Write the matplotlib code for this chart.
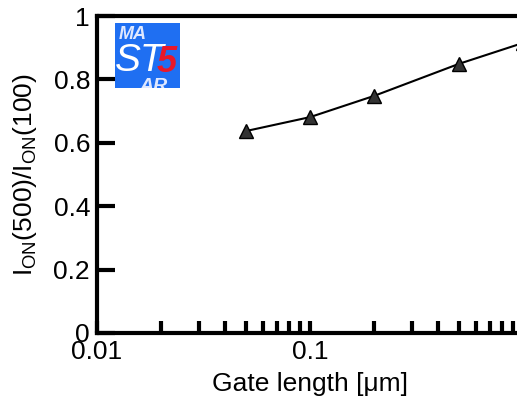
import matplotlib
matplotlib.use("Agg")
import matplotlib.pyplot as plt
from matplotlib.patches import Rectangle
from matplotlib.ticker import FixedLocator, NullFormatter

plt.rcParams["font.family"] = ["Liberation Sans", "DejaVu Sans"]
plt.rcParams["mathtext.fontset"] = "custom"
plt.rcParams["mathtext.rm"] = "Liberation Sans"
plt.rcParams["mathtext.it"] = "Liberation Sans:italic"

# data
gate_length = [0.05, 0.1, 0.2, 0.5, 1.0]
ion_ratio = [0.637, 0.681, 0.748, 0.849, 0.915]
x_ticks = [0.01, 0.1, 1]
x_tick_labels = ["0.01", "0.1", "1"]
y_ticks = [0, 0.2, 0.4, 0.6, 0.8, 1]
y_tick_labels = ["0", "0.2", "0.4", "0.6", "0.8", "1"]

fig = plt.figure(figsize=(5.17, 4.01), dpi=100)
ax = fig.add_axes([97 / 517, 1 - 333 / 401, 426 / 517, 317 / 401])

ax.plot(gate_length, ion_ratio, color="black", lw=1.5, marker="^",
        markersize=10, markerfacecolor="#333333", markeredgecolor="black",
        markeredgewidth=1.0, clip_on=False)

ax.set_xscale("log")
ax.set_xlim(0.01, 1)
ax.set_ylim(0, 1)
ax.set_xticks(x_ticks)
ax.set_xticklabels(x_tick_labels)
minor = [m * d for d in (0.01, 0.1) for m in range(2, 10)]
ax.xaxis.set_minor_locator(FixedLocator(minor))
ax.xaxis.set_minor_formatter(NullFormatter())
ax.set_yticks(y_ticks)
ax.set_yticklabels(y_tick_labels)

ax.tick_params(axis="both", which="both", direction="in", labelsize=19,
               width=3, color="black")
ax.tick_params(axis="y", which="major", length=13, pad=5)
ax.tick_params(axis="x", which="major", length=9, pad=5)
ax.tick_params(axis="x", which="minor", length=9)
for side in ("left", "bottom", "top", "right"):
    ax.spines[side].set_linewidth(3)

ax.set_xlabel("Gate length [\u03bcm]", fontsize=19, labelpad=6)
ax.set_ylabel(r"$\mathregular{I_{ON}(500)/I_{ON}(100)}$", fontsize=19)
ax.yaxis.set_label_coords(-0.136, 0.5)

# MASTAR logo
fax = fig.add_axes([115 / 517, 1 - 88 / 401, 65 / 517, 65 / 401])
fax.set_xlim(0, 1)
fax.set_ylim(0, 1)
fax.axis("off")
fax.add_patch(Rectangle((0, 0), 1, 1, color="#1f6ff2"))
fax.text(0.05, 0.82, "MA", color="#dfe8ff", fontsize=13, style="italic",
         fontweight="bold", va="center", ha="left", clip_on=True)
fax.text(0.0, 0.42, "ST", color="white", fontsize=28, style="italic",
         va="center", ha="left", clip_on=True)
fax.text(0.80, 0.40, "5", color="#e8182a", fontsize=26, style="italic",
         fontweight="bold", va="center", ha="center", clip_on=True)
fax.text(0.38, 0.02, "AR", color="#dfe8ff", fontsize=14, style="italic",
         fontweight="bold", va="center", ha="left", clip_on=True)

fig.savefig("out.png", dpi=100)
